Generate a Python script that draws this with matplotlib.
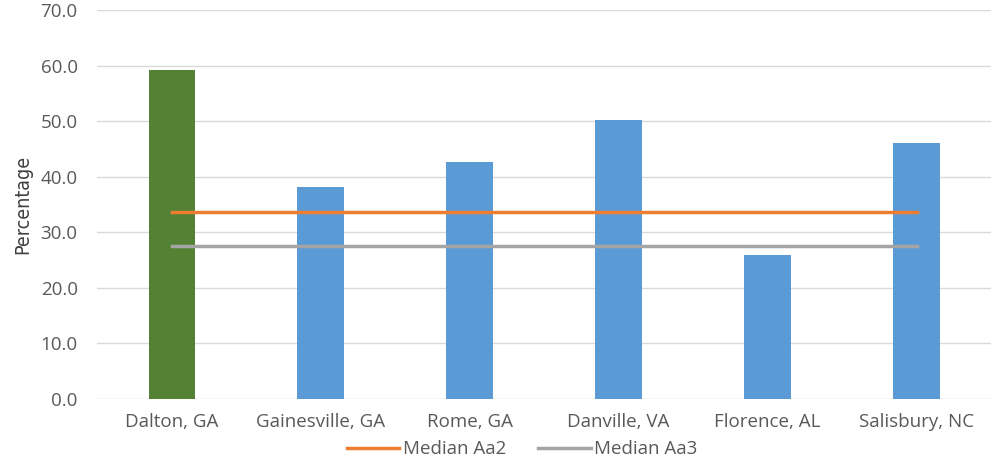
import numpy as np
import matplotlib.pyplot as plt

#%%

cities = ['Dalton, GA', 'Gainesville, GA', 'Rome, GA', 'Danville, VA',
          'Florence, AL', 'Salisbury, NC']
pct = [59.2, 38.2, 42.6, 50.3, 26.0, 46.0]
median_aa2 = [33.6] * len(cities)
median_aa3 = [27.5] * len(cities)
bar_colors = ['#548235'] + ['#5B9BD5'] * 5

#%%

plt.rcParams['font.family'] = ['Open Sans', 'DejaVu Sans']

fig = plt.figure(figsize=(9.91, 4.57), dpi=100)
ax = fig.add_axes([0.098, 0.127, 0.902, 0.851])

x = np.arange(len(cities))
ax.bar(x, pct, width=0.31, color=bar_colors, zorder=2)
ax.plot(x, median_aa2, color='#ED7D31', lw=2.5, label='Median Aa2', zorder=3)
ax.plot(x, median_aa3, color='#A5A5A5', lw=2.5, label='Median Aa3', zorder=3)

ax.set_xlim(-0.5, len(cities) - 0.5)
ax.set_ylim(0, 70)
ax.set_yticks(np.arange(0, 71, 10))
ax.set_yticklabels([f'{v:.1f}' for v in np.arange(0, 71, 10)])
ax.set_xticks(x)
ax.set_xticklabels(cities)
ax.tick_params(axis='both', length=0, labelsize=13.5, colors='#595959')
ax.tick_params(axis='x', pad=10)
ax.tick_params(axis='y', pad=14)
ax.grid(axis='y', color='#D9D9D9', lw=1, zorder=0)
for s in ax.spines.values():
    s.set_visible(False)

ax.set_ylabel('Percentage', fontsize=14, color='#404040',
              family='DejaVu Sans', fontstretch='condensed', labelpad=6)

fig.legend(loc='lower center', bbox_to_anchor=(0.527, -0.04), ncol=2,
           frameon=False, fontsize=13.5, labelcolor='#595959',
           handlelength=2.8, handletextpad=0.2, columnspacing=1.7)

fig.savefig('out.png', dpi=100)
